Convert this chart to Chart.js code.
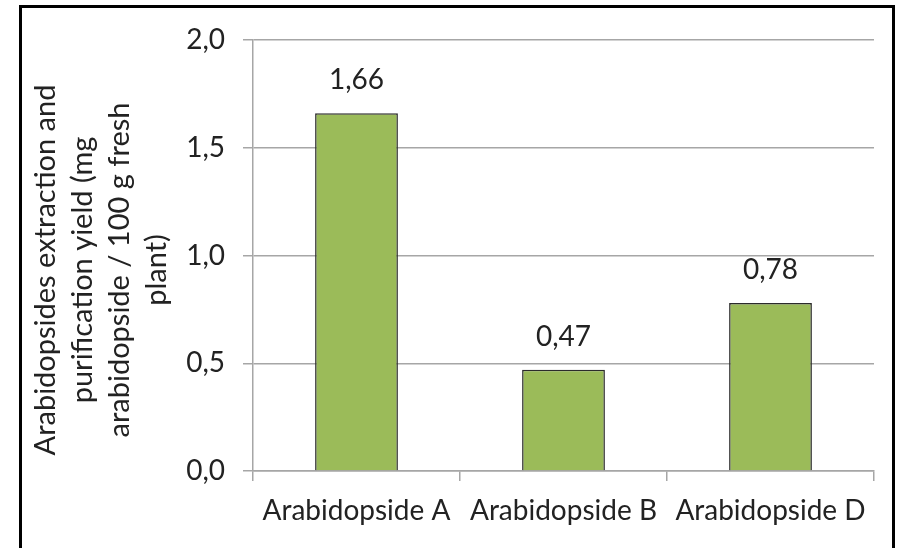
<!DOCTYPE html>
<html>
<head>
<meta charset="utf-8">
<script src="https://cdn.jsdelivr.net/npm/chart.js@4.4.1/dist/chart.umd.min.js"></script>
<style>
  html, body { margin: 0; padding: 0; background: #fff; overflow: hidden; }
  #frame {
    position: absolute; left: 19px; top: 5px;
    width: 870px; height: 600px;
    border: 3px solid #000;
  }
  #wrap { position: absolute; left: 0; top: 0; width: 897px; height: 548px; }
</style>
</head>
<body>
<div id="frame"></div>
<div id="wrap"><canvas id="chart" width="897" height="548"></canvas></div>
<script>
// Yield of each purified arabidopside (mg per 100 g fresh plant)
const categories = ['Arabidopside A', 'Arabidopside B', 'Arabidopside D'];
const yieldValues = [1.66, 0.47, 0.78];
const yTicks = [0, 0.5, 1.0, 1.5, 2.0];
const yTitleLines = [
  'Arabidopsides extraction and',
  'purification yield (mg',
  'arabidopside / 100 g fresh',
  'plant)'
];

const FONT = 'Lato, "Open Sans", sans-serif';
const FONT_SIZE = 28;
const TITLE_SIZE = 29;
const TEXT = '#222222';
const comma = (v, d) => v.toFixed(d).replace('.', ',');

// Value labels above each bar
const valueLabels = {
  id: 'valueLabels',
  afterDatasetsDraw(chart) {
    const ctx = chart.ctx;
    const meta = chart.getDatasetMeta(0);
    ctx.save();
    ctx.font = FONT_SIZE + 'px ' + FONT;
    ctx.fillStyle = TEXT;
    ctx.textAlign = 'center';
    ctx.textBaseline = 'alphabetic';
    meta.data.forEach((bar, i) => {
      ctx.fillText(comma(yieldValues[i], 2), bar.x, bar.y - 24);
    });
    ctx.restore();
  }
};

// Rotated, multi-line y-axis title
const yAxisTitle = {
  id: 'yAxisTitle',
  afterDraw(chart) {
    const ctx = chart.ctx;
    ctx.save();
    ctx.translate(46, 270);
    ctx.rotate(-Math.PI / 2);
    ctx.font = TITLE_SIZE + 'px ' + FONT;
    ctx.fillStyle = TEXT;
    ctx.textAlign = 'center';
    ctx.textBaseline = 'middle';
    yTitleLines.forEach((line, i) => ctx.fillText(line, 0, i * 37));
    ctx.restore();
  }
};

new Chart(document.getElementById('chart'), {
  type: 'bar',
  data: {
    labels: categories,
    datasets: [{
      data: yieldValues,
      backgroundColor: '#9bbb59',
      borderColor: '#2b2b2b',
      borderWidth: 1.5,
      barPercentage: 0.4,
      categoryPercentage: 1.0
    }]
  },
  options: {
    responsive: false,
    animation: false,
    devicePixelRatio: 1,
    layout: { padding: { left: 22, right: 23, top: 40, bottom: 0 } },
    plugins: { legend: { display: false }, tooltip: { enabled: false } },
    scales: {
      x: {
        grid: {
          offset: true,
          drawOnChartArea: false,
          drawTicks: true,
          tickLength: 10,
          color: '#a6a6a6',
          lineWidth: 1.5
        },
        border: { display: true, color: '#a6a6a6', width: 1.5 },
        ticks: {
          color: TEXT,
          font: { family: FONT, size: FONT_SIZE },
          padding: 13,
          maxRotation: 0,
          autoSkip: false
        },
        afterFit(scale) { scale.height = 77; }
      },
      y: {
        min: 0,
        max: 2,
        afterBuildTicks(scale) { scale.ticks = yTicks.map(v => ({ value: v })); },
        grid: {
          color: '#a6a6a6',
          lineWidth: 1.5,
          drawTicks: true,
          tickLength: 10
        },
        border: { display: true, color: '#a6a6a6', width: 1.5 },
        ticks: {
          color: TEXT,
          font: { family: FONT, size: FONT_SIZE },
          padding: 18,
          callback: v => comma(v, 1)
        },
        afterFit(scale) { scale.width = 231; }
      }
    }
  },
  plugins: [valueLabels, yAxisTitle]
});
</script>
</body>
</html>
